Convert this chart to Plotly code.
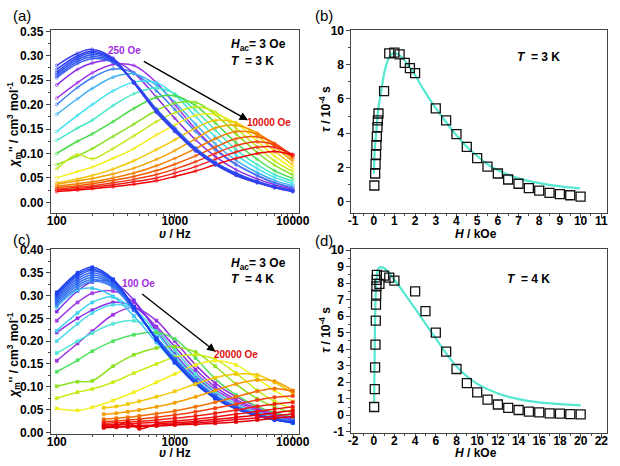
import plotly.graph_objects as go

# ---------------- data ----------------
FREQ_A = [100, 150, 200, 300, 450, 700, 1000, 1500, 2200, 3300, 5000, 7000, 10000]

A250 = [0.213, 0.245, 0.265, 0.282, 0.280, 0.245, 0.200, 0.150, 0.110, 0.078, 0.055, 0.040, 0.030]
A500 = [0.240, 0.272, 0.285, 0.290, 0.265, 0.215, 0.172, 0.128, 0.094, 0.067, 0.048, 0.036, 0.027]
A750 = [0.272, 0.300, 0.309, 0.293, 0.244, 0.184, 0.145, 0.105, 0.077, 0.055, 0.040, 0.030, 0.022]
A1000 = [0.280, 0.305, 0.313, 0.295, 0.245, 0.185, 0.146, 0.106, 0.078, 0.056, 0.041, 0.031, 0.023]
A1250 = [0.266, 0.296, 0.306, 0.292, 0.245, 0.186, 0.147, 0.107, 0.079, 0.057, 0.041, 0.031, 0.023]
A1500 = [0.262, 0.292, 0.302, 0.290, 0.246, 0.188, 0.148, 0.108, 0.080, 0.058, 0.042, 0.031, 0.023]
A1750 = [0.258, 0.288, 0.298, 0.288, 0.246, 0.189, 0.150, 0.110, 0.081, 0.059, 0.042, 0.032, 0.024]
A2000 = [0.255, 0.284, 0.294, 0.286, 0.247, 0.191, 0.152, 0.111, 0.082, 0.060, 0.043, 0.032, 0.024]
A3000 = [0.200, 0.235, 0.255, 0.273, 0.265, 0.228, 0.190, 0.145, 0.108, 0.077, 0.055, 0.040, 0.030]
A3500 = [0.180, 0.212, 0.233, 0.256, 0.263, 0.240, 0.205, 0.160, 0.120, 0.086, 0.061, 0.045, 0.034]
A4000 = [0.145, 0.178, 0.200, 0.228, 0.246, 0.245, 0.220, 0.176, 0.134, 0.097, 0.069, 0.051, 0.038]
A4500 = [0.127, 0.152, 0.168, 0.198, 0.222, 0.234, 0.222, 0.188, 0.148, 0.108, 0.077, 0.057, 0.043]
A5000 = [0.100, 0.125, 0.140, 0.165, 0.192, 0.215, 0.218, 0.198, 0.163, 0.122, 0.088, 0.065, 0.049]
A5500 = [0.077, 0.095, 0.110, 0.135, 0.160, 0.188, 0.203, 0.205, 0.180, 0.140, 0.102, 0.076, 0.056]
A6000 = [0.068, 0.098, 0.089, 0.110, 0.136, 0.165, 0.183, 0.195, 0.185, 0.152, 0.113, 0.085, 0.063]
A6500 = [0.050, 0.063, 0.072, 0.090, 0.110, 0.138, 0.158, 0.178, 0.180, 0.162, 0.125, 0.095, 0.069]
A7000 = [0.040, 0.048, 0.055, 0.068, 0.085, 0.108, 0.128, 0.152, 0.168, 0.163, 0.136, 0.105, 0.076]
A7500 = [0.037, 0.044, 0.049, 0.058, 0.070, 0.088, 0.106, 0.130, 0.152, 0.158, 0.142, 0.114, 0.084]
A8000 = [0.033, 0.038, 0.042, 0.050, 0.060, 0.075, 0.090, 0.110, 0.130, 0.145, 0.140, 0.119, 0.089]
A8500 = [0.030, 0.034, 0.038, 0.045, 0.053, 0.065, 0.078, 0.095, 0.113, 0.130, 0.134, 0.121, 0.093]
A9000 = [0.027, 0.031, 0.034, 0.040, 0.047, 0.057, 0.068, 0.083, 0.100, 0.116, 0.124, 0.118, 0.096]
A9500 = [0.025, 0.028, 0.031, 0.036, 0.042, 0.050, 0.060, 0.073, 0.088, 0.103, 0.113, 0.113, 0.098]
A10000 = [0.022, 0.025, 0.028, 0.032, 0.037, 0.044, 0.053, 0.064, 0.077, 0.090, 0.100, 0.104, 0.097]

FREQ_C = [100, 150, 200, 300, 450, 700, 1000, 1500, 2200, 3300, 5000, 7000, 10000]
FREQ_C_HI = [250, 320, 400, 500, 700, 1000, 1500, 2200, 3300, 5000, 7000, 10000]

C_P1 = [0.157, 0.195, 0.222, 0.258, 0.274, 0.245, 0.200, 0.148, 0.108, 0.078, 0.056, 0.043, 0.033]
C_P2 = [0.219, 0.250, 0.268, 0.285, 0.276, 0.232, 0.188, 0.138, 0.100, 0.072, 0.052, 0.040, 0.031]
C_P3 = [0.245, 0.285, 0.305, 0.310, 0.285, 0.228, 0.180, 0.130, 0.094, 0.068, 0.049, 0.037, 0.029]
C_P4 = [0.265, 0.310, 0.330, 0.330, 0.290, 0.222, 0.172, 0.123, 0.088, 0.063, 0.046, 0.035, 0.027]
C_B1 = [0.307, 0.350, 0.362, 0.336, 0.275, 0.203, 0.153, 0.106, 0.074, 0.051, 0.036, 0.027, 0.021]
C_B2 = [0.303, 0.346, 0.358, 0.334, 0.274, 0.203, 0.154, 0.107, 0.075, 0.052, 0.037, 0.028, 0.022]
C_B3 = [0.300, 0.342, 0.355, 0.332, 0.274, 0.204, 0.155, 0.108, 0.076, 0.053, 0.038, 0.029, 0.022]
C_B4 = [0.296, 0.337, 0.350, 0.330, 0.273, 0.205, 0.157, 0.110, 0.077, 0.054, 0.038, 0.029, 0.023]
C_B5 = [0.292, 0.332, 0.345, 0.327, 0.272, 0.206, 0.158, 0.111, 0.078, 0.055, 0.039, 0.030, 0.023]
C_B6 = [0.288, 0.327, 0.340, 0.324, 0.271, 0.207, 0.160, 0.113, 0.079, 0.056, 0.040, 0.030, 0.024]
C_B7 = [0.284, 0.322, 0.335, 0.321, 0.270, 0.208, 0.161, 0.114, 0.080, 0.057, 0.041, 0.031, 0.024]
C_B8 = [0.280, 0.317, 0.331, 0.318, 0.268, 0.208, 0.162, 0.115, 0.081, 0.058, 0.041, 0.031, 0.025]
C_C3 = [0.275, 0.312, 0.316, 0.298, 0.255, 0.197, 0.152, 0.107, 0.075, 0.052, 0.037, 0.028, 0.021]
C_C2 = [0.223, 0.262, 0.285, 0.297, 0.268, 0.207, 0.160, 0.112, 0.078, 0.054, 0.038, 0.028, 0.020]
C_C0 = [0.200, 0.238, 0.262, 0.280, 0.270, 0.218, 0.168, 0.118, 0.082, 0.057, 0.040, 0.030, 0.022]
C_C1 = [0.174, 0.200, 0.218, 0.238, 0.245, 0.222, 0.180, 0.128, 0.090, 0.062, 0.044, 0.033, 0.024]
C_G1 = [0.133, 0.158, 0.178, 0.200, 0.214, 0.219, 0.205, 0.163, 0.118, 0.082, 0.057, 0.043, 0.034]
C_G2 = [0.101, 0.111, 0.113, 0.145, 0.170, 0.185, 0.188, 0.176, 0.145, 0.106, 0.074, 0.056, 0.042]
C_YG = [0.075, 0.088, 0.095, 0.110, 0.130, 0.150, 0.165, 0.170, 0.160, 0.130, 0.092, 0.068, 0.052]
C_Y = [0.0525, 0.048, 0.055, 0.070, 0.088, 0.110, 0.128, 0.148, 0.157, 0.148, 0.118, 0.092, 0.068]
C_YO = [0.054, 0.057, 0.062, 0.068, 0.078, 0.090, 0.106, 0.120, 0.128, 0.126, 0.110, 0.086]
C_O1 = [0.040, 0.042, 0.045, 0.049, 0.056, 0.065, 0.078, 0.092, 0.106, 0.115, 0.112, 0.092]
C_O2 = [0.029, 0.031, 0.033, 0.036, 0.041, 0.047, 0.056, 0.066, 0.078, 0.090, 0.096, 0.090]
C_R1 = [0.024, 0.025, 0.027, 0.029, 0.033, 0.038, 0.045, 0.053, 0.062, 0.071, 0.077, 0.080]
C_R2 = [0.020, 0.021, 0.022, 0.024, 0.027, 0.031, 0.036, 0.042, 0.049, 0.057, 0.062, 0.066]
C_R3 = [0.017, 0.017, 0.018, 0.020, 0.022, 0.025, 0.029, 0.034, 0.040, 0.046, 0.051, 0.056]
C_R4 = [0.014, 0.015, 0.022, 0.008, 0.018, 0.021, 0.024, 0.028, 0.033, 0.038, 0.043, 0.048]
C_R5 = [0.012, 0.013, 0.014, 0.015, 0.016, 0.018, 0.021, 0.024, 0.028, 0.032, 0.036, 0.041]
C_R6 = [0.010, 0.011, 0.012, 0.013, 0.014, 0.016, 0.018, 0.020, 0.023, 0.027, 0.031, 0.035]

H_B = [0.03, 0.07, 0.09, 0.11, 0.13, 0.15, 0.18, 0.20, 0.23, 0.5, 0.75, 1.0, 1.25, 1.5, 1.75, 2.0,
       3.0, 3.5, 4.0, 4.5, 5.0, 5.5, 6.0, 6.5, 7.0, 7.5, 8.0, 8.5, 9.0, 9.5, 10.0]
TAU_B = [0.95, 1.65, 2.2, 2.75, 3.3, 3.8, 4.35, 4.75, 5.15, 6.45, 8.65, 8.7, 8.6, 8.1, 7.8, 7.5,
         5.45, 4.75, 3.95, 3.2, 2.55, 2.05, 1.65, 1.3, 1.05, 0.8, 0.65, 0.52, 0.45, 0.38, 0.3]
FIT_B_H = [0.01, 0.05, 0.13, 0.21, 0.37, 0.52, 0.68, 0.87, 1.07, 1.31, 1.62, 1.95, 2.41, 2.97,
           3.44, 3.95, 4.45, 4.97, 5.45, 5.96, 6.96, 7.95, 8.95, 9.97]
FIT_B_T = [1.63, 3.04, 4.18, 5.31, 6.54, 7.58, 8.24, 8.62, 8.66, 8.49, 8.05, 7.49, 6.54, 5.5,
           4.74, 3.95, 3.27, 2.7, 2.23, 1.87, 1.38, 1.1, 0.91, 0.78]

H_D = [0.04, 0.10, 0.13, 0.17, 0.20, 0.22, 0.24, 0.26, 0.28, 0.30, 0.55, 1.0, 1.5, 2.0,
       4, 5, 6, 7, 8, 9, 10, 11, 12, 13, 14, 15, 16, 17, 18, 19, 20]
TAU_D = [0.5, 1.58, 2.9, 4.27, 5.73, 6.7, 7.3, 7.8, 8.2, 8.5, 7.95, 8.45, 8.33, 8.15,
         7.5, 6.3, 5.0, 3.85, 2.8, 1.95, 1.38, 0.95, 0.65, 0.45, 0.32, 0.22, 0.17, 0.12, 0.1, 0.07, 0.05]
FIT_D_H = [0.04, 0.06, 0.08, 0.10, 0.12, 0.15, 0.20, 0.25, 0.30, 0.40, 0.50, 0.70, 1.0, 1.5,
           2, 3, 4, 5, 6, 7, 8, 9, 10, 12, 14, 16, 18, 20]
FIT_D_T = [0.8, 2.0, 3.2, 4.3, 5.3, 6.4, 7.5, 8.1, 8.45, 8.8, 8.93, 8.97, 8.9, 8.6,
           8.2, 7.35, 6.45, 5.55, 4.65, 3.75, 2.95, 2.35, 1.9, 1.32, 0.98, 0.78, 0.67, 0.6]

# tick labels
FREQ_TICKS = [100, 1000, 10000]
FREQ_TICK_TEXT = ["100", "1000", "10000"]
HB_TICKS = list(range(-1, 12))
HB_TICK_TEXT = [str(v) for v in HB_TICKS]
HD_TICKS = list(range(-2, 23, 2))
HD_TICK_TEXT = [str(v) for v in HD_TICKS]
TD_TICKS = list(range(-1, 11))
TD_TICK_TEXT = [str(v) for v in TD_TICKS]

# ---------------- styles ----------------
W, H = 620, 466
FONT = "Liberation Sans"

SERIES_A_BACK = [(A250, "#a233e6"), (A500, "#8a2be6"), (A3000, "#3c7ef2"), (A3500, "#3cb0f2"),
                 (A4000, "#3ee0f0"), (A4500, "#44e8c4"), (A5000, "#46dc46"), (A5500, "#86e01e"),
                 (A6000, "#c4e81a"), (A6500, "#f2ee1c"), (A7000, "#f2c800"), (A7500, "#f2a000"),
                 (A8000, "#f27c00"), (A8500, "#f25a00"), (A9000, "#f23c10"), (A9500, "#f01c1c"),
                 (A10000, "#f00000")]
SERIES_A_BAND = [(A2000, "#3a62f0"), (A1750, "#3258f0"), (A1500, "#2a4ef0"), (A1250, "#2444f0"),
                 (A750, "#2a3cf0"), (A1000, "#3a40ee")]

SERIES_C_BACK = [(C_P1, "#9b30e0"), (C_P2, "#8c2ee6"), (C_P3, "#a040e8"), (C_P4, "#7a30e8"),
                 (C_C0, "#50dcec"), (C_C1, "#52e8d8"), (C_G1, "#50e060"), (C_G2, "#8ce01e"),
                 (C_YG, "#c8ec18"), (C_Y, "#f2f020")]
SERIES_C_HI = [(C_YO, "#f2c800"), (C_O1, "#f2a000"), (C_O2, "#f27000"), (C_R1, "#f24010"),
               (C_R2, "#f22010"), (C_R3, "#f01010"), (C_R4, "#e80000"), (C_R5, "#f00020"),
               (C_R6, "#e00000")]
SERIES_C_BAND = [(C_C3, "#40c4f0"), (C_C2, "#40d4f0"), (C_B8, "#4080f0"), (C_B7, "#3878f0"),
                 (C_B6, "#2f70f0"), (C_B5, "#3468f0"), (C_B4, "#2f5ff0"), (C_B3, "#2a55f0"),
                 (C_B2, "#2248f0"), (C_B1, "#1e40f0")]

fig = go.Figure()

def add_curve(x, y, color, xa, ya, sym):
    fig.add_trace(go.Scatter(x=x, y=y, mode="lines+markers", xaxis=xa, yaxis=ya,
                             line=dict(color=color, width=1.5, shape="spline", smoothing=1.0),
                             marker=dict(symbol=sym, size=3, color=color, line=dict(width=0.6, color=color)),
                             showlegend=False, hoverinfo="skip"))

for vals, col in SERIES_A_BACK + SERIES_A_BAND:
    add_curve(FREQ_A, vals, col, "x", "y", "circle-open")

for vals, col in SERIES_C_BACK + SERIES_C_BAND:
    add_curve(FREQ_C, vals, col, "x3", "y3", "square")
for vals, col in SERIES_C_HI:
    add_curve(FREQ_C_HI, vals, col, "x3", "y3", "square")

FIT_COLOR = "#55e8d0"
fig.add_trace(go.Scatter(x=FIT_B_H, y=FIT_B_T, mode="lines", xaxis="x2", yaxis="y2",
                         line=dict(color=FIT_COLOR, width=2.2, shape="spline", smoothing=0.8),
                         showlegend=False, hoverinfo="skip"))
fig.add_trace(go.Scatter(x=H_B, y=TAU_B, mode="markers", xaxis="x2", yaxis="y2",
                         marker=dict(symbol="square-open", size=9, color="#111", line=dict(width=1.3)),
                         showlegend=False, hoverinfo="skip"))
fig.add_trace(go.Scatter(x=FIT_D_H, y=FIT_D_T, mode="lines", xaxis="x4", yaxis="y4",
                         line=dict(color=FIT_COLOR, width=2.2, shape="spline", smoothing=0.8),
                         showlegend=False, hoverinfo="skip"))
fig.add_trace(go.Scatter(x=H_D, y=TAU_D, mode="markers", xaxis="x4", yaxis="y4",
                         marker=dict(symbol="square-open", size=9, color="#111", line=dict(width=1.3)),
                         showlegend=False, hoverinfo="skip"))

tickfont = dict(family=FONT, size=12, color="black", weight="bold")

def ax(**kw):
    d = dict(showline=True, linecolor="#444", linewidth=1, mirror=True, ticks="outside",
             ticklen=4, tickwidth=1, tickcolor="#444", showgrid=False, zeroline=False,
             tickfont=tickfont)
    d.update(kw)
    return d

def dom(a, b, total):
    return [a / total, b / total]

def ydom(top, bottom):
    return [1 - bottom / H, 1 - top / H]

LOG_MINOR = [200, 300, 400, 500, 600, 700, 800, 900, 2000, 3000, 4000, 5000, 6000, 7000, 8000, 9000]

fig.update_layout(
    width=W, height=H, margin=dict(l=0, r=0, t=0, b=0),
    paper_bgcolor="white", plot_bgcolor="white",
    xaxis=ax(domain=dom(48, 302, W), type="log", range=[1.95, 4.05], anchor="y",
             tickvals=FREQ_TICKS, ticktext=FREQ_TICK_TEXT, ticklabelstandoff=-7,
             minor=dict(ticks="outside", ticklen=2, tickvals=LOG_MINOR, tickcolor="#444")),
    yaxis=ax(domain=ydom(24, 212), range=[-0.022, 0.352], anchor="x", dtick=0.05, tick0=0,
             tickformat=".2f", minor=dict(ticks="outside", ticklen=2, dtick=0.025, tickcolor="#444")),
    xaxis2=ax(domain=dom(356, 618, W), range=[-1.08, 11.28], anchor="y2",
              tickvals=HB_TICKS, ticktext=HB_TICK_TEXT, ticklabelstandoff=-7,
              minor=dict(ticks="outside", ticklen=2, dtick=0.5, tickcolor="#444")),
    yaxis2=ax(domain=ydom(24, 212), range=[-0.66, 10.0], anchor="x2", dtick=2, tick0=0,
              minor=dict(ticks="outside", ticklen=2, dtick=1, tickcolor="#444")),
    xaxis3=ax(domain=dom(48, 302, W), type="log", range=[1.95, 4.05], anchor="y3",
              tickvals=FREQ_TICKS, ticktext=FREQ_TICK_TEXT, ticklabelstandoff=-7,
              minor=dict(ticks="outside", ticklen=2, tickvals=LOG_MINOR, tickcolor="#444")),
    yaxis3=ax(domain=ydom(249, 439), range=[-0.003, 0.402], anchor="x3", dtick=0.05, tick0=0,
              tickformat=".2f", minor=dict(ticks="outside", ticklen=2, dtick=0.025, tickcolor="#444")),
    xaxis4=ax(domain=dom(356, 618, W), range=[-2.16, 22.55], anchor="y4",
              tickvals=HD_TICKS, ticktext=HD_TICK_TEXT, ticklabelstandoff=-7,
              minor=dict(ticks="outside", ticklen=2, dtick=1, tickcolor="#444")),
    yaxis4=ax(domain=ydom(249, 438), range=[-1.06, 10.06], anchor="x4",
              tickvals=TD_TICKS, ticktext=TD_TICK_TEXT,
              minor=dict(ticks="outside", ticklen=2, dtick=0.5, tickcolor="#444")),
)

ann = []
def paper_text(text, x, y, size=12, color="black", angle=0, weight="bold", xanchor="center"):
    ann.append(dict(text=text, x=x / W, y=1 - y / H, xref="paper", yref="paper", showarrow=False,
                    textangle=angle, xanchor=xanchor, yanchor="middle", borderpad=0,
                    font=dict(family=FONT, size=size, color=color, weight=weight)))

# panel labels
paper_text("(a)", 18, 9, size=15, weight="normal")
paper_text("(b)", 328, 9, size=15, weight="normal")
paper_text("(c)", 18, 239, size=15, weight="normal")
paper_text("(d)", 328, 240, size=15, weight="normal")

# axis titles
YA = "<i>χ</i><sub>m</sub>'' / cm<sup>3</sup> mol<sup>-1</sup>"
paper_text(YA, 10, 121, angle=-90)
paper_text(YA, 10, 358, angle=-90)
paper_text("<i>υ</i> / Hz", 175, 233)
paper_text("<i>υ</i> / Hz", 175, 459)
paper_text("<i>τ</i> / 10<sup>-4</sup> s", 329, 105, angle=-90)
paper_text("<i>τ</i> / 10<sup>-4</sup> s", 329, 332, angle=-90)
paper_text("<i>H</i> / kOe", 484, 233)
paper_text("<i>H</i> / kOe", 484, 459)

# in-plot texts
def data_text(text, x, y, xa, ya, size=12, color="black", xanchor="left"):
    ann.append(dict(text=text, x=x, y=y, xref=xa, yref=ya, showarrow=False, xanchor=xanchor,
                    yanchor="middle", borderpad=0,
                    font=dict(family=FONT, size=size, color=color, weight="bold")))

data_text("<i>H</i><sub>ac</sub>= 3 Oe", 3.471, 0.322, "x", "y")
data_text("<i>T</i>  = 3 K", 3.471, 0.290, "x", "y")
data_text("250 Oe", 2.725, 0.310, "x", "y", size=10, color="#a030e0", xanchor="right")
data_text("10000 Oe", 3.80, 0.163, "x", "y", size=10, color="#e01010", xanchor="center")
data_text("<i>H</i><sub>ac</sub>= 3 Oe", 3.471, 0.369, "x3", "y3")
data_text("<i>T</i>  = 4 K", 3.471, 0.336, "x3", "y3")
data_text("100 Oe", 2.69, 0.3255, "x3", "y3", size=10, color="#a030e0", xanchor="center")
data_text("20000 Oe", 3.517, 0.1717, "x3", "y3", size=10, color="#e01010", xanchor="center")
data_text("<i>T</i>  = 3 K", 6.9, 8.43, "x2", "y2")
data_text("<i>T</i>  = 4 K", 12.75, 8.24, "x4", "y4")

# arrows
ann.append(dict(x=3.62, y=0.168, ax=2.725, ay=0.290, xref="x", yref="y", axref="x", ayref="y",
                showarrow=True, arrowhead=2, arrowsize=1.2, arrowwidth=1.4, arrowcolor="black", text=""))
ann.append(dict(x=3.345, y=0.177, ax=2.711, ay=0.306, xref="x3", yref="y3", axref="x3", ayref="y3",
                showarrow=True, arrowhead=2, arrowsize=1.2, arrowwidth=1.4, arrowcolor="black", text=""))

fig.update_layout(annotations=ann)
fig.write_html("out.html", config={"displayModeBar": False},
               post_script="document.body.style.margin='0px';")
